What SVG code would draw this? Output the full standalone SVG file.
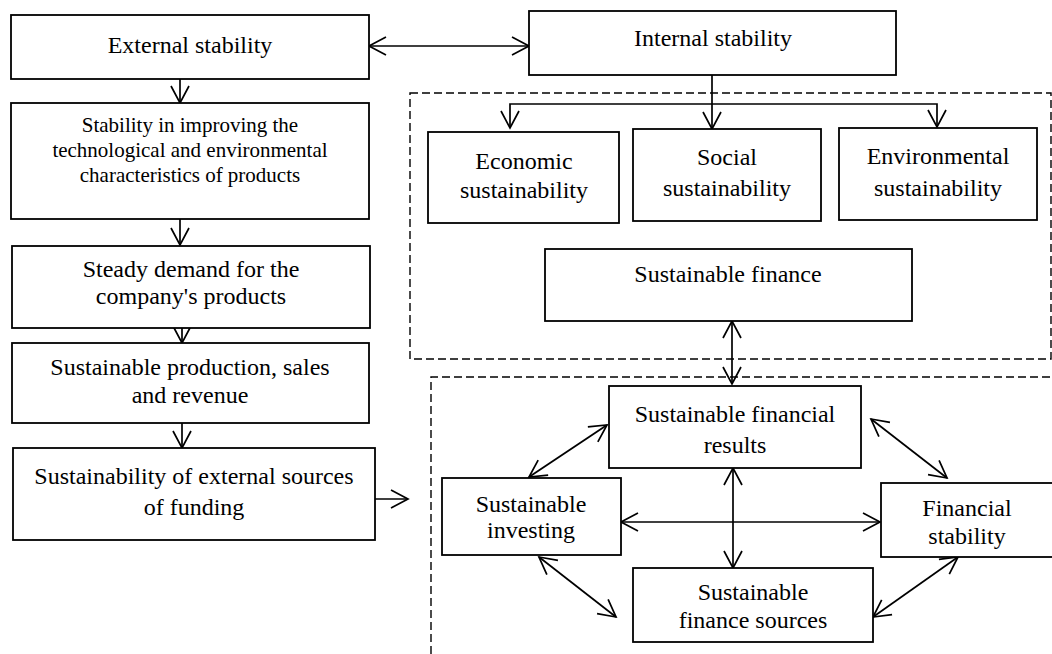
<svg xmlns="http://www.w3.org/2000/svg" width="1052" height="654" viewBox="0 0 1052 654">
<style>
.box{fill:#fff;stroke:#000;stroke-width:1.8}
.dash{fill:none;stroke:#000;stroke-width:1.4;stroke-dasharray:8 4}
.t{font-family:"Liberation Serif","Times New Roman",serif;font-size:24px;fill:#000;text-anchor:middle}
.s{font-size:21px}
.c{fill:none;stroke:#000;stroke-width:1.7}
</style>
<defs>
<marker id="ah" markerUnits="userSpaceOnUse" markerWidth="24" markerHeight="24" viewBox="-19 -12 24 24" refX="0" refY="0" orient="auto-start-reverse">
<path d="M-17,-9 L0,0 L-17,9" fill="none" stroke="#000" stroke-width="1.7"/>
</marker>
</defs>
<rect width="1052" height="654" fill="#fff"/>
<g id="containers">
<rect class="dash" x="410" y="93" width="641" height="266"/>
<path class="dash" d="M431,654 L431,377 L1060,377"/>
</g>
<g id="connectors">
<line class="c" x1="369" y1="46" x2="529" y2="46" marker-start="url(#ah)" marker-end="url(#ah)"/>
<line class="c" x1="180" y1="79" x2="180" y2="103" marker-end="url(#ah)"/>
<line class="c" x1="180" y1="219" x2="180" y2="245" marker-end="url(#ah)"/>
<line class="c" x1="182" y1="328" x2="182" y2="343" marker-end="url(#ah)"/>
<line class="c" x1="182" y1="423" x2="182" y2="448" marker-end="url(#ah)"/>
<line class="c" x1="375" y1="499" x2="408" y2="499" marker-end="url(#ah)"/>
<line class="c" x1="712" y1="75" x2="712" y2="129" marker-end="url(#ah)"/>
<polyline class="c" points="510,128 510,104 937,104 937,127" marker-start="url(#ah)" marker-end="url(#ah)"/>
<line class="c" x1="732" y1="321" x2="732" y2="384" marker-start="url(#ah)" marker-end="url(#ah)"/>
<line class="c" x1="529" y1="477" x2="607" y2="425" marker-start="url(#ah)" marker-end="url(#ah)"/>
<line class="c" x1="871" y1="419" x2="947" y2="478" marker-start="url(#ah)" marker-end="url(#ah)"/>
<line class="c" x1="539" y1="557" x2="616" y2="617" marker-start="url(#ah)" marker-end="url(#ah)"/>
<line class="c" x1="958" y1="557" x2="873" y2="617" marker-start="url(#ah)" marker-end="url(#ah)"/>
<line class="c" x1="621" y1="522" x2="880" y2="522" marker-start="url(#ah)" marker-end="url(#ah)"/>
<line class="c" x1="733" y1="468" x2="733" y2="568" marker-start="url(#ah)" marker-end="url(#ah)"/>
</g>
<g id="external">
<rect class="box" x="11" y="15" width="358" height="64"/>
<text class="t" x="190" y="53">External stability</text>
</g>
<g id="internal">
<rect class="box" x="529" y="11" width="367" height="64"/>
<text class="t" x="713" y="46">Internal stability</text>
</g>
<g id="improving">
<rect class="box" x="11" y="103" width="358" height="116"/>
<text class="t s" x="190" y="132">Stability in improving the</text>
<text class="t s" x="190" y="157">technological and environmental</text>
<text class="t s" x="190" y="182">characteristics of products</text>
</g>
<g id="demand">
<rect class="box" x="12" y="246" width="358" height="82"/>
<text class="t" x="191" y="277">Steady demand for the</text>
<text class="t" x="191" y="304">company's products</text>
</g>
<g id="production">
<rect class="box" x="12" y="343" width="357" height="80"/>
<text class="t" x="190" y="375">Sustainable production, sales</text>
<text class="t" x="190" y="403">and revenue</text>
</g>
<g id="funding">
<rect class="box" x="13" y="448" width="362" height="92"/>
<text class="t" x="194" y="484">Sustainability of external sources</text>
<text class="t" x="194" y="515">of funding</text>
</g>
<g id="economic">
<rect class="box" x="428" y="132" width="191" height="91"/>
<text class="t" x="524" y="169">Economic</text>
<text class="t" x="524" y="198">sustainability</text>
</g>
<g id="social">
<rect class="box" x="633" y="129" width="188" height="92"/>
<text class="t" x="727" y="165">Social</text>
<text class="t" x="727" y="196">sustainability</text>
</g>
<g id="environmental">
<rect class="box" x="839" y="128" width="198" height="92"/>
<text class="t" x="938" y="164">Environmental</text>
<text class="t" x="938" y="196">sustainability</text>
</g>
<g id="finance">
<rect class="box" x="545" y="249" width="367" height="72"/>
<text class="t" x="728" y="282">Sustainable finance</text>
</g>
<g id="results">
<rect class="box" x="609" y="386" width="252" height="82"/>
<text class="t" x="735" y="422">Sustainable financial</text>
<text class="t" x="735" y="453">results</text>
</g>
<g id="investing">
<rect class="box" x="442" y="478" width="179" height="77"/>
<text class="t" x="531" y="512">Sustainable</text>
<text class="t" x="531" y="538">investing</text>
</g>
<g id="stability">
<rect class="box" x="881" y="483" width="180" height="74"/>
<text class="t" x="967" y="516">Financial</text>
<text class="t" x="967" y="544">stability</text>
</g>
<g id="sources">
<rect class="box" x="633" y="568" width="240" height="74"/>
<text class="t" x="753" y="600">Sustainable</text>
<text class="t" x="753" y="628">finance sources</text>
</g>
</svg>
